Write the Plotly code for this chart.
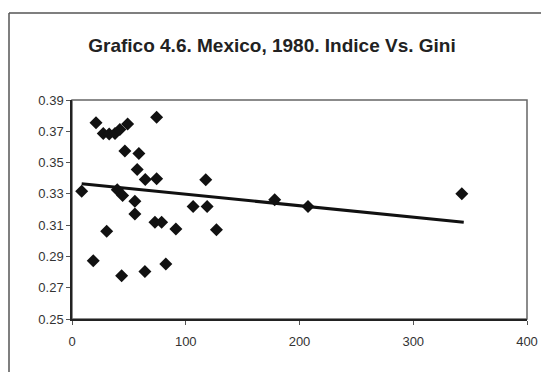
import plotly.graph_objects as go

# Data
indice = [8.5, 18.7, 21.1, 27.5, 30.5, 32.7, 37.8, 39.8, 42.1, 43.6, 44.5, 46.5,
          48.9, 55.3, 55.3, 57.3, 58.8, 64.1, 64.4, 72.9, 74.4, 74.4, 78.8, 82.5,
          91.3, 106.5, 117.6, 118.8, 127.0, 178.2, 207.5, 342.7]
gini = [0.3317, 0.2872, 0.3754, 0.3686, 0.3061, 0.3682, 0.3686, 0.3326, 0.3712,
        0.2776, 0.3290, 0.3574, 0.3746, 0.3253, 0.3172, 0.3455, 0.3558, 0.2804,
        0.3391, 0.3118, 0.3789, 0.3397, 0.3118, 0.2851, 0.3076, 0.3219, 0.3390,
        0.3219, 0.3071, 0.3262, 0.3219, 0.3301]

trend_x = [8.5, 344.4]
trend_y = [0.3365, 0.3118]

x_ticks = [0, 100, 200, 300, 400]
y_ticks = [0.25, 0.27, 0.29, 0.31, 0.33, 0.35, 0.37, 0.39]

# page body has an 8px default margin, so the figure is sized to compensate
W, H = 541, 364
ML, MR, MT, MB = 64, 22, 92, 53
PW, PH = W - ML - MR, H - MT - MB


def px(xp):
    return (xp - ML) / PW


def py(yp):
    return (H - MB - yp) / PH


fig = go.Figure()
fig.add_trace(go.Scatter(x=indice, y=gini, mode="markers",
                         marker=dict(symbol="diamond", size=10, color="#111111",
                                     line=dict(width=0)),
                         showlegend=False, hoverinfo="x+y"))
fig.add_trace(go.Scatter(x=trend_x, y=trend_y, mode="lines",
                         line=dict(color="#111111", width=3),
                         showlegend=False))

fig.update_layout(
    width=W, height=H,
    margin=dict(l=ML, r=MR, t=MT, b=MB),
    paper_bgcolor="white", plot_bgcolor="white",
    font=dict(family="Liberation Sans, Arial, sans-serif", color="#333333", size=13),
    title=dict(text="<b>Grafico 4.6. Mexico, 1980. Indice Vs. Gini</b>",
               x=264 / W, xanchor="center", y=1 - 37 / H, yanchor="middle",
               font=dict(size=19, color="#222222")),
    xaxis=dict(range=[0, 400], tickvals=x_ticks, showgrid=False, zeroline=False,
               showline=True, linecolor="#222222", linewidth=1.5,
               ticks="outside", ticklen=4, tickcolor="#555555", tickwidth=1,
               ticklabelstandoff=6,
               tickfont=dict(size=13, color="#333333")),
    yaxis=dict(range=[0.25, 0.39], tickvals=y_ticks, tickformat=".2f",
               showgrid=False, zeroline=False,
               showline=True, linecolor="#222222", linewidth=1.5,
               ticks="outside", ticklen=4, tickcolor="#555555", tickwidth=1,
               tickfont=dict(size=13, color="#333333")),
    shapes=[
        dict(type="rect", xref="paper", yref="paper", x0=0, y0=0, x1=1, y1=1,
             line=dict(color="#666666", width=1.5), layer="below"),
        dict(type="line", xref="paper", yref="paper",
             x0=px(1), x1=px(1), y0=py(H), y1=py(5),
             line=dict(color="#555555", width=1.5)),
        dict(type="line", xref="paper", yref="paper",
             x0=px(1), x1=px(W), y0=py(5), y1=py(5),
             line=dict(color="#555555", width=1.5)),
    ],
)

fig.write_html("out.html")
